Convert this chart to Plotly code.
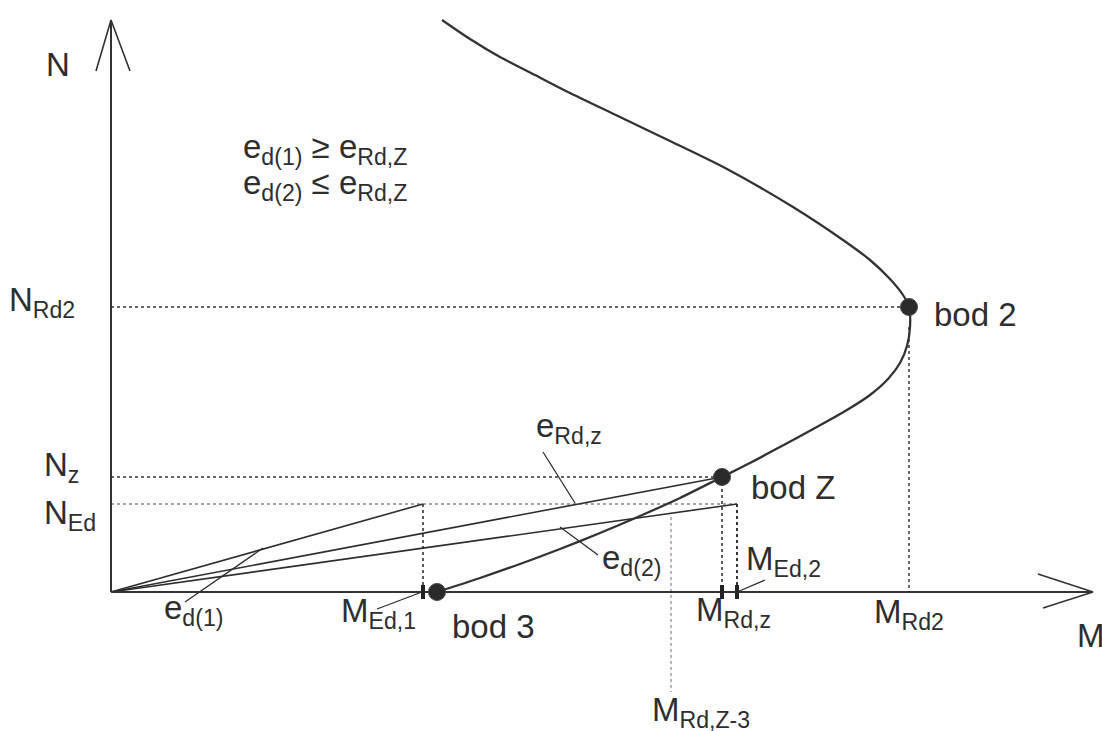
import plotly.graph_objects as go

# Interaction diagram N-M (schematic units: M to the right, N upward)
# Resistance curve: top branch down to bod 2, then through bod Z to bod 3
curve_M = [331, 359, 389, 424, 459, 509, 559, 616, 682, 732, 759, 779, 792,
           798,
           799, 796, 789, 777, 759, 736, 704, 669, 639, 611,
           569, 529, 489, 449, 409, 369, 326]
curve_N = [572, 553, 535, 517, 499, 475, 451, 423, 385, 352, 332, 313, 297,
           285,
           265, 246, 229, 213, 197, 182, 164, 145, 129, 115,
           94, 76, 59, 43, 28, 14, 0]

# Characteristic points
pt_names = ["bod 2", "bod Z", "bod 3"]
pt_M = [798, 611, 326]
pt_N = [285, 115, 0]

# Design / resistance values
N_Rd2 = 285
N_z = 115
N_Ed = 88
M_Ed1 = 312
M_Ed2 = 626
M_Rdz = 611
M_Rd2 = 798
M_RdZ3 = 560
N_RdZ3_top = 75
N_RdZ3_bottom = -100

# Axis extents and arrowheads
M_axis_end = 982
N_axis_end = 572
N_arrow_M = [-15, 0, 19]
N_arrow_N = [521, 572, 521]
M_arrow_M = [927, 982, 932]
M_arrow_N = [18, 0, -16]

# Leader lines (start, end) for labels
leaders = {
    "e_d1": ([152, 74], [44, -10]),
    "e_Rdz": ([432, 464], [140, 89]),
    "e_d2": ([449, 487], [65, 37]),
    "M_Ed2": ([626, 654], [0, 12]),
    "M_Ed1": ([311, 266], [0, -17]),
}

INK = "#2e2e2e"
FONT = "Liberation Sans, Arial, sans-serif"
MAIN = 33
SUB = 21

fig = go.Figure()


def line(xs, ys, width=1.5, color=INK, dash=None, shape="linear"):
    fig.add_trace(go.Scatter(
        x=xs, y=ys, mode="lines", hoverinfo="skip", showlegend=False,
        line=dict(color=color, width=width, dash=dash, shape=shape)))


# Dotted reference lines
line([0, M_Rd2], [N_Rd2, N_Rd2], 1.6, "#333", "dot")
line([M_Rd2, M_Rd2], [N_Rd2 - 20, 0], 1.6, "#444", "dot")
line([0, M_Rdz], [N_z, N_z], 1.6, "#333", "dot")
line([0, M_Ed2], [N_Ed, N_Ed], 1.4, "#888", "dot")
line([M_Rdz, M_Rdz], [N_z, 0], 1.6, "#333", "dot")
line([M_Ed2, M_Ed2], [N_Ed, 0], 2.0, "#333", "dot")
line([M_Ed1, M_Ed1], [N_Ed, 0], 1.6, "#333", "dot")
line([M_RdZ3, M_RdZ3], [N_RdZ3_top, N_RdZ3_bottom], 1.4, "#999", "dot")

# Eccentricity rays from the origin
line([0, M_Ed1], [0, N_Ed], 1.6)
line([0, pt_M[1]], [0, pt_N[1]], 1.6)
line([0, M_Ed2], [0, N_Ed], 1.6)

# Axes with open arrowheads
line([0, 0], [0, N_axis_end], 2.0, "#333")
line([0, M_axis_end], [0, 0], 2.0, "#333")
line(N_arrow_M, N_arrow_N, 1.6, "#333")
line(M_arrow_M, M_arrow_N, 1.6, "#333")

# Leader lines
for xs, ys in leaders.values():
    line(xs, ys, 1.3)

# Resistance curve
fig.add_trace(go.Scatter(
    x=curve_M, y=curve_N, mode="lines", hoverinfo="skip", showlegend=False,
    line=dict(color="#333", width=2.3, shape="spline", smoothing=0.8)))

# Small ticks on the M axis
fig.add_trace(go.Scatter(
    x=[M_Ed1, M_Rdz, M_Ed2], y=[0, 0, 0], mode="markers", hoverinfo="skip",
    showlegend=False,
    marker=dict(symbol="line-ns", size=10, line=dict(width=4, color="#222"))))

# Characteristic points
fig.add_trace(go.Scatter(
    x=pt_M, y=pt_N, mode="markers", hoverinfo="skip", showlegend=False,
    marker=dict(size=17, color="#2a2a2a", line=dict(width=1, color="#444"))))


def sub(t):
    return f'<sub style="font-size:{SUB}px">{t}</sub>'


labels = [
    ("N", -67, 528),
    ("N" + sub("Rd2"), -104, 290),
    ("N" + sub("z"), -69, 125),
    ("N" + sub("Ed"), -69, 77),
    ("e" + sub("d(1)") + " \u2265 e" + sub("Rd,Z"), 130, 443),
    ("e" + sub("d(2)") + " \u2264 e" + sub("Rd,Z"), 130, 407),
    ("bod 2", 821, 278),
    ("bod Z", 638, 105),
    ("bod 3", 339, -34),
    ("M" + sub("Ed,1"), 228, -21),
    ("M" + sub("Rd,z"), 583, -20),
    ("M" + sub("Ed,2"), 633, 31),
    ("M" + sub("Rd2"), 761, -22),
    ("M" + sub("Rd,Z-3"), 539, -120),
    ("e" + sub("Rd,z"), 423, 164),
    ("e" + sub("d(2)"), 489, 32),
    ("e" + sub("d(1)"), 51, -18),
    ("M", 964, -43),
]
for text, x, y in labels:
    fig.add_annotation(
        x=x, y=y, text=text, showarrow=False, xanchor="left", yanchor="middle",
        font=dict(family=FONT, size=MAIN, color=INK))

fig.update_layout(
    width=1102, height=731,
    margin=dict(l=0, r=0, t=0, b=0),
    paper_bgcolor="white", plot_bgcolor="white",
    xaxis=dict(range=[-111, 991], visible=False, fixedrange=True),
    yaxis=dict(range=[-139, 592], visible=False, fixedrange=True),
    showlegend=False,
)

fig.write_html("out.html")
